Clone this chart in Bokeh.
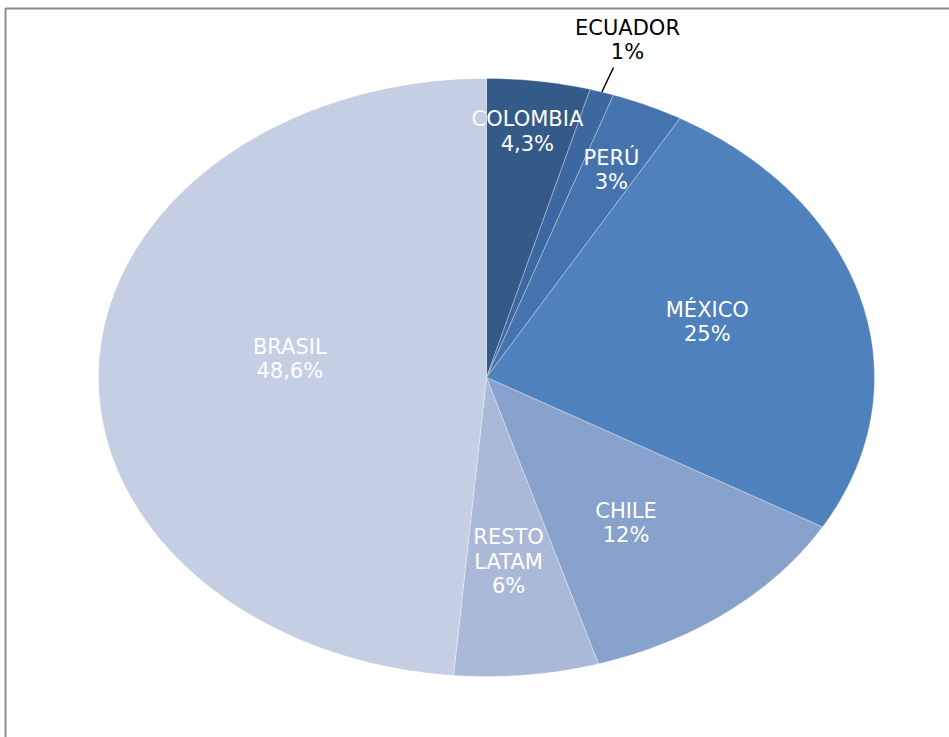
import numpy as np
from bokeh.plotting import figure
from bokeh.models import Range1d, ColumnDataSource
from bokeh.core.properties import value
from bokeh.embed import file_html
from bokeh.resources import INLINE

# ---- data ----
countries = ["COLOMBIA", "ECUADOR", "PERÚ", "MÉXICO", "CHILE", "RESTO\nLATAM", "BRASIL"]
shares = [4.3, 1.0, 3.0, 25.0, 12.0, 6.0, 48.6]
share_labels = ["4,3%", "1%", "3%", "25%", "12%", "6%", "48,6%"]
colors = ["#345a88", "#3d67a0", "#4573ae", "#4f81bd", "#87a2cc", "#aab9d8", "#c4cfe3"]

# ---- layout: label distance (fraction of radius) and pixel nudges ----
label_r = [0.82, 1.0, 0.77, 0.60, 0.60, 0.60, 0.51]
nudge_x = [-2, 0, 1, -4, -5, -2, 1]
nudge_y = [-3, 0, 2, -9, 5, 6, -12]

W, H = 949, 737
cx, cy, rx, ry = 486, 377, 388, 299  # pixel geometry of the elliptical pie

p = figure(width=W, height=H, output_backend="svg", toolbar_location=None,
           x_range=Range1d((0 - cx) / rx, (W - cx) / rx),
           y_range=Range1d((cy - H) / ry, (cy - 0) / ry),
           min_border=0)
p.axis.visible = False
p.grid.visible = False
p.outline_line_color = None
p.background_fill_color = "white"
p.border_fill_color = "white"

# frame (top and left visible)
fl = (5 - cx) / rx
ft = (cy - 8) / ry
p.line([fl, fl, 3], [-3, ft, ft], line_color="#8c8c8c", line_width=2)

total = sum(shares)
cum = np.concatenate([[0], np.cumsum(shares)]) / total
xs, ys = [], []
mids = []
for i in range(len(shares)):
    a0, a1 = cum[i] * 2 * np.pi, cum[i + 1] * 2 * np.pi
    if i == len(shares) - 1:
        a1 = 2 * np.pi
    t = np.linspace(a0, a1, max(4, int((a1 - a0) * 80)))
    # clockwise from 12 o'clock
    xs.append(np.concatenate([[0], np.sin(t), [0]]).tolist())
    ys.append(np.concatenate([[0], np.cos(t), [0]]).tolist())
    mids.append((a0 + a1) / 2)

src = ColumnDataSource(dict(xs=xs, ys=ys, color=colors))
p.patches("xs", "ys", source=src, fill_color="color", line_color="white",
          line_alpha=0.3, line_width=1)

font = value("DejaVu Sans")
fsize = "21px"
lh = 1.02
for i, name in enumerate(countries):
    m = mids[i]
    if name == "ECUADOR":
        x0, y0 = np.sin(m), np.cos(m)
        x1, y1 = (613 - cx) / rx, (cy - 67) / ry
        p.line([x0, x1], [y0, y1], line_color="black", line_width=1.5)
        p.text([x1 + (14 / rx)], [y1 + 3 / ry], text=[name + "\n" + share_labels[i]],
               text_font=font, text_font_size=fsize, text_color="black",
               text_align="center", text_baseline="bottom", text_line_height=lh)
        continue
    lx = label_r[i] * np.sin(m) + nudge_x[i] / rx
    ly = label_r[i] * np.cos(m) - nudge_y[i] / ry
    p.text([lx], [ly], text=[name + "\n" + share_labels[i]],
           text_font=font, text_font_size=fsize, text_color="white",
           text_align="center", text_baseline="middle", text_line_height=lh)

open("out.html", "w").write(file_html(p, INLINE))
